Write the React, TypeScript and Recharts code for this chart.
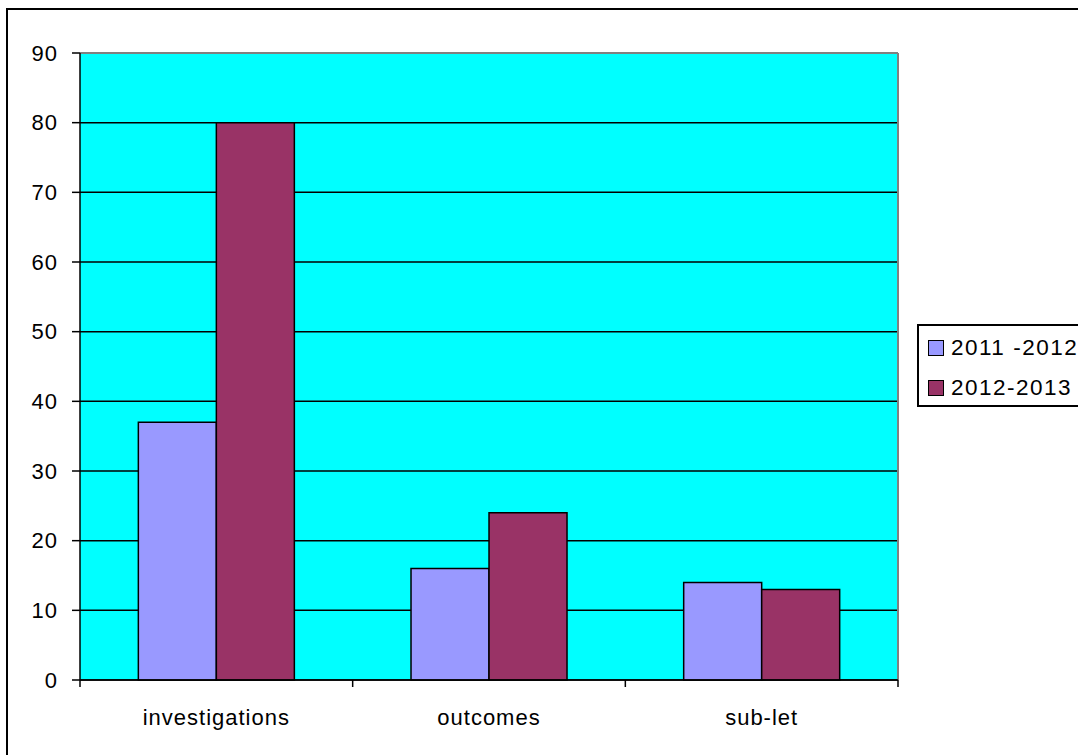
import React from "react";
import {
  BarChart,
  Bar,
  XAxis,
  YAxis,
  CartesianGrid,
  ReferenceLine,
} from "recharts";

const categories = ["investigations", "outcomes", "sub-let"];
const series2011 = [37, 16, 14];
const series2012 = [80, 24, 13];
const seriesNames = ["2011 -2012", "2012-2013"];
const seriesColors = ["#9999FF", "#993366"];
const yTicks = [0, 10, 20, 30, 40, 50, 60, 70, 80, 90];

const data = categories.map((c, i) => ({
  name: c,
  a: series2011[i],
  b: series2012[i],
}));

const FONT = "Arial, 'Liberation Sans', sans-serif";

function CategoryTick(props: any) {
  const { x, y, payload, index } = props;
  const half = payload && payload.offset ? payload.offset : 0;
  const isLast = index === categories.length - 1;
  return (
    <g>
      <line x1={x - half} x2={x - half} y1={y} y2={y + 7} stroke="#000" strokeWidth={1.5} />
      {isLast && (
        <line x1={x + half} x2={x + half} y1={y} y2={y + 7} stroke="#000" strokeWidth={1.5} />
      )}
      <text
        x={x}
        y={y + 45}
        textAnchor="middle"
        fill="#000"
        fontSize={22}
        fontFamily={FONT}
        letterSpacing={1}
      >
        {payload.value}
      </text>
    </g>
  );
}

export default function App() {
  return (
    <div
      style={{
        position: "fixed",
        left: 0,
        top: 0,
        width: 1078,
        height: 755,
        background: "#fff",
        overflow: "hidden",
        fontFamily: FONT,
      }}
    >
      <div
        style={{
          position: "absolute",
          left: 6,
          top: 8,
          width: 1200,
          height: 900,
          border: "2px solid #000",
          boxSizing: "border-box",
        }}
      />
      <div style={{ position: "absolute", left: 0, top: 0 }}>
        <BarChart
          width={1078}
          height={755}
          data={data}
          margin={{ top: 53, right: 180, bottom: 15, left: 0 }}
          barCategoryGap="21.4%"
          barGap={0}
        >
          <CartesianGrid
            vertical={false}
            horizontal={true}
            stroke="#000"
            strokeWidth={1.5}
            fill="#00FFFF"
            fillOpacity={1}
          />
          <XAxis
            dataKey="name"
            type="category"
            height={60}
            axisLine={{ stroke: "#000", strokeWidth: 1.5 }}
            tickLine={false}
            tickSize={0}
            tickMargin={0}
            interval={0}
            tick={<CategoryTick />}
          />
          <YAxis
            domain={[0, 90]}
            ticks={yTicks}
            interval={0}
            width={80}
            tickSize={8}
            tickMargin={14}
            axisLine={{ stroke: "#000", strokeWidth: 1.5 }}
            tickLine={{ stroke: "#000", strokeWidth: 1.5 }}
            tick={{ fill: "#000", fontSize: 22, fontFamily: FONT, letterSpacing: 1 }}
          />
          <ReferenceLine y={90} stroke="#808080" strokeWidth={2} />
          <ReferenceLine
            x={categories[categories.length - 1]}
            position="end"
            stroke="#808080"
            strokeWidth={2}
          />
          <Bar
            dataKey="a"
            name={seriesNames[0]}
            fill={seriesColors[0]}
            stroke="#000"
            strokeWidth={1.5}
            isAnimationActive={false}
          />
          <Bar
            dataKey="b"
            name={seriesNames[1]}
            fill={seriesColors[1]}
            stroke="#000"
            strokeWidth={1.5}
            isAnimationActive={false}
          />
        </BarChart>
      </div>
      <div
        style={{
          position: "absolute",
          left: 917,
          top: 324,
          width: 200,
          height: 83,
          border: "2px solid #000",
          boxSizing: "border-box",
          background: "#fff",
        }}
      >
        {seriesNames.map((n, i) => (
          <div
            key={n}
            style={{
              position: "absolute",
              left: 9,
              top: 9 + i * 40,
              height: 26,
              display: "flex",
              alignItems: "center",
              whiteSpace: "nowrap",
            }}
          >
            <span
              style={{
                display: "inline-block",
                width: 14,
                height: 14,
                background: seriesColors[i],
                border: "1.5px solid #000",
                marginRight: 7,
              }}
            />
            <span style={{ fontSize: 22.5, letterSpacing: 1.5, color: "#000" }}>{n}</span>
          </div>
        ))}
      </div>
    </div>
  );
}
